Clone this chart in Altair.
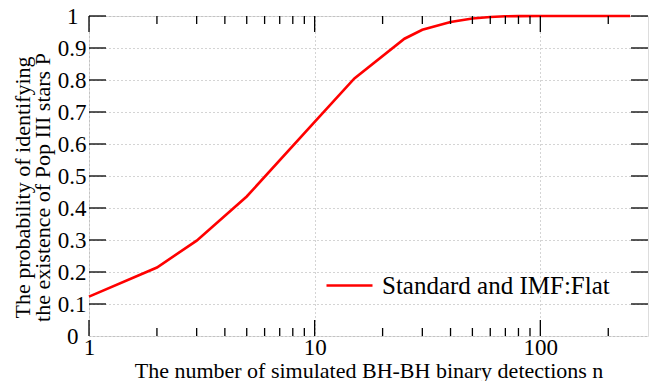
import altair as alt
import pandas as pd

# Data
n_values = [1, 2, 3, 5, 10, 15, 25, 30, 40, 50, 60, 70, 80, 100, 150, 200, 250]
p_values = [0.123, 0.214, 0.298, 0.436, 0.669, 0.805, 0.929, 0.957, 0.981, 0.992, 0.997, 0.999, 0.9995, 1.0, 1.0, 1.0, 1.0]
series_name = "Standard and IMF:Flat"

x_major = [1, 10, 100]
x_minor = [2, 3, 4, 5, 6, 7, 8, 9, 20, 30, 40, 50, 60, 70, 80, 90, 200]
y_labels = [0, 0.1, 0.2, 0.3, 0.4, 0.5, 0.6, 0.7, 0.8, 0.9, 1.0]
y_ticks = [0.1, 0.2, 0.3, 0.4, 0.5, 0.6, 0.7, 0.8, 0.9, 1.0]

W, H = 559, 320
FONT = "Liberation Serif"

line_df = pd.DataFrame({"n": n_values, "P": p_values, "series": series_name})
xmaj_df = pd.DataFrame({"n": x_major})
xmin_df = pd.DataFrame({"n": x_minor})
y_df = pd.DataFrame({"P": y_ticks})

xscale = alt.Scale(type="log", domain=[1, 300], nice=False)
yscale = alt.Scale(domain=[0, 1], nice=False)

x_axis = alt.Axis(values=x_major, format="~g", ticks=False, domain=False,
                  grid=True, gridDash=[1, 3], gridColor="#a8a8a8", gridWidth=1,
                  labelFont=FONT, labelFontSize=23, labelColor="black",
                  labelPadding=0, labelFlush=False, labelOverlap=False,
                  title="The number of simulated BH-BH binary detections n",
                  titleFont=FONT, titleFontSize=22, titleFontWeight="normal",
                  titleColor="black", titlePadding=1)
y_axis = alt.Axis(values=y_labels, format="~g", ticks=False, domain=False,
                  grid=True, gridDash=[1, 3], gridColor="#a8a8a8", gridWidth=1,
                  labelFont=FONT, labelFontSize=23, labelColor="black",
                  labelPadding={"condition": {"test": "datum.value == 0 || datum.value == 1", "value": 11},
                                "value": 3},
                  labelFlush=False, labelOverlap=False,
                  title=["The probability of identifying", "the existence of Pop III stars P"],
                  titleFont=FONT, titleFontSize=22, titleFontWeight="normal",
                  titleColor="black", titlePadding=3, titleLineHeight=20, titleY=171)

line = alt.Chart(line_df).mark_line(color="red", strokeWidth=2.6).encode(
    x=alt.X("n:Q", scale=xscale, axis=x_axis),
    y=alt.Y("P:Q", scale=yscale, axis=y_axis),
    color=alt.Color("series:N", scale=alt.Scale(range=["red"]),
                    legend=alt.Legend(title=None, orient="none", legendX=236, legendY=245,
                                      symbolType="stroke", symbolSize=2116,
                                      symbolStrokeWidth=2.6, symbolStrokeColor="#ff2a3a",
                                      labelFont=FONT, labelLimit=0,
                                      labelFontSize=25, labelColor="black",
                                      labelOffset=8)),
)

tick_color = "black"
def xt(df, y0, y1):
    return alt.Chart(df).mark_rule(color=tick_color, strokeWidth=1.3).encode(
        x=alt.X("n:Q", scale=xscale, axis=x_axis), y=alt.value(y0), y2=alt.value(y1))

def yt(x0, x1):
    return alt.Chart(y_df).mark_rule(color=tick_color, strokeWidth=1.3).encode(
        y=alt.Y("P:Q", scale=yscale, axis=y_axis), x=alt.value(x0), x2=alt.value(x1))

layers = [
    line,
    xt(xmaj_df, H, H - 16), xt(xmaj_df, 0, 16),
    xt(xmin_df, H, H - 8), xt(xmin_df, 0, 8),
    yt(0, 17), yt(W - 17, W),
]

chart = alt.layer(*layers).properties(
    width=W, height=H,
    autosize=alt.AutoSizeParams(type="none"),
    padding={"left": 89, "top": 16, "right": 9, "bottom": 45},
).configure_view(stroke="black", strokeWidth=1.6).configure(background="white").configure_axis(
    labelFont=FONT, titleFont=FONT
).configure_legend(labelFont=FONT)

chart.save("out.html", embed_options={"renderer": "svg", "actions": False})
